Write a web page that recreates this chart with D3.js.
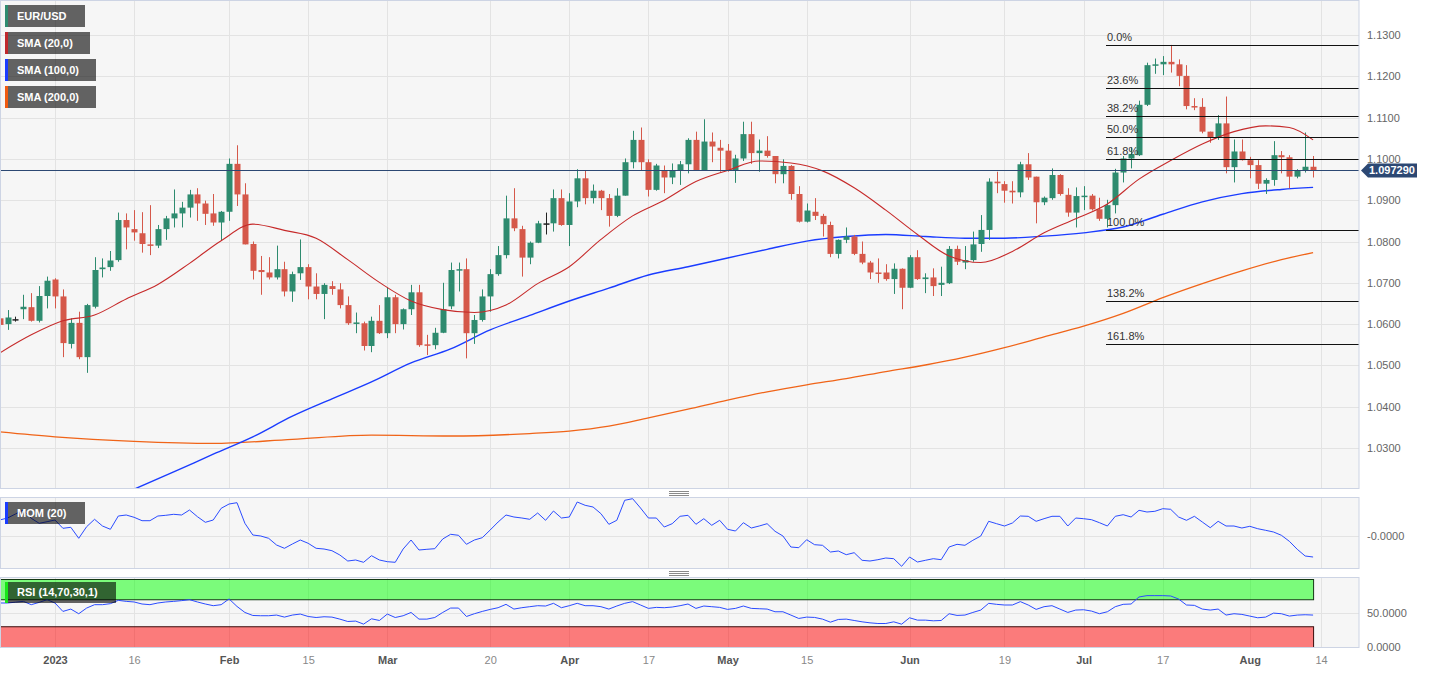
<!DOCTYPE html>
<html><head><meta charset="utf-8">
<script src="https://cdn.jsdelivr.net/npm/d3@7"></script>
<style>
body{margin:0;background:#fff;}
svg{display:block;font-family:"Liberation Sans",Arial,sans-serif;}
</style>
</head><body>
<svg id="chart" width="1430" height="674"></svg>
<script>
// ---------- DATA ----------
const firstDay = "2022-12-22";      // first trading day shown (index -7)
const lastAxisDay = "2023-08-14";
const opens = [
1.0614,1.0600,1.0612,1.0636,1.0641,1.0608,1.0668,1.0708,1.0667,1.0552,
1.0603,1.0520,1.0642,1.0733,1.0738,1.0755,1.0852,1.0830,1.0820,1.0793,
1.0790,1.0830,1.0856,1.0868,1.0882,1.0914,1.0892,1.0868,1.0846,1.0872,
1.0988,1.0914,1.0794,1.0731,1.0725,1.0713,1.0733,1.0679,1.0723,1.0738,
1.0691,1.0673,1.0692,1.0684,1.0646,1.0602,1.0602,1.0547,1.0608,1.0578,
1.0665,1.0600,1.0636,1.0677,1.0551,1.0549,1.0579,1.0643,1.0731,1.0733,
1.0578,1.0610,1.0667,1.0721,1.0767,1.0856,1.0830,1.0761,1.0797,1.0844,
1.0844,1.0905,1.0840,1.0897,1.0953,1.0905,1.0923,1.0905,1.0862,1.0911,
1.0992,1.1046,1.0992,1.0925,1.0973,1.0955,1.0971,1.0987,1.1046,1.0973,
1.1042,1.1027,1.1020,1.0973,1.1001,1.1060,1.1014,1.1020,1.1007,1.0963,
1.0983,1.0915,1.0848,1.0872,1.0862,1.0840,1.0770,1.0804,1.0812,1.0770,
1.0749,1.0725,1.0725,1.0709,1.0734,1.0688,1.0762,1.0709,1.0713,1.0695,
1.0699,1.0782,1.0749,1.0755,1.0794,1.0828,1.0945,1.0939,1.0923,1.0919,
1.0987,1.0957,1.0895,1.0905,1.0961,1.0913,1.0870,1.0909,1.0911,1.0878,
1.0855,1.0888,1.0967,1.1001,1.1009,1.1131,1.1227,1.1229,1.1235,1.1229,
1.1201,1.1128,1.1126,1.1066,1.1052,1.1086,1.0980,1.1018,1.0997,1.0985,
1.0940,1.0949,1.1009,1.1004,1.0957,1.0973,1.0981];
const highs = [
1.0658,1.0634,1.0618,1.0671,1.0675,1.0692,1.0715,1.0711,1.0684,1.0614,
1.0630,1.0649,1.0762,1.0759,1.0777,1.0870,1.0868,1.0876,1.0871,1.0888,
1.0840,1.0862,1.0926,1.0896,1.0925,1.0929,1.0899,1.0915,1.0874,1.1001,
1.1033,1.0941,1.0800,1.0765,1.0762,1.0790,1.0751,1.0727,1.0805,1.0745,
1.0723,1.0699,1.0704,1.0699,1.0667,1.0628,1.0606,1.0618,1.0646,1.0689,
1.0671,1.0638,1.0695,1.0695,1.0574,1.0591,1.0700,1.0749,1.0749,1.0759,
1.0622,1.0684,1.0733,1.0789,1.0911,1.0929,1.0838,1.0800,1.0850,1.0870,
1.0926,1.0926,1.0917,1.0975,1.0973,1.0938,1.0925,1.0915,1.0929,1.1001,
1.1068,1.1076,1.0999,1.0988,1.0984,1.0989,1.0995,1.1050,1.1066,1.1096,
1.1064,1.1046,1.1036,1.1010,1.1090,1.1090,1.1047,1.1055,1.1007,1.0999,
1.0985,1.0934,1.0892,1.0905,1.0867,1.0848,1.0805,1.0834,1.0816,1.0800,
1.0753,1.0759,1.0745,1.0747,1.0735,1.0767,1.0779,1.0723,1.0735,1.0739,
1.0789,1.0790,1.0789,1.0824,1.0864,1.0953,1.0969,1.0946,1.0946,1.0993,
1.1014,1.0957,1.0909,1.0977,1.0963,1.0929,1.0931,1.0934,1.0915,1.0906,
1.0901,1.0976,1.1007,1.1028,1.1141,1.1233,1.1243,1.1249,1.1276,1.1241,
1.1227,1.1147,1.1147,1.1066,1.1106,1.1151,1.1047,1.1047,1.1005,1.0997,
1.0953,1.1043,1.1019,1.1009,1.0975,1.1064,1.1007];
const lows = [
1.0574,1.0586,1.0606,1.0612,1.0606,1.0604,1.0638,1.0638,1.0520,1.0541,
1.0515,1.0482,1.0638,1.0713,1.0729,1.0751,1.0781,1.0802,1.0773,1.0767,
1.0784,1.0804,1.0834,1.0834,1.0858,1.0850,1.0840,1.0838,1.0802,1.0850,
1.0886,1.0793,1.0708,1.0671,1.0708,1.0708,1.0667,1.0654,1.0707,1.0660,
1.0660,1.0612,1.0671,1.0638,1.0598,1.0578,1.0536,1.0532,1.0576,1.0566,
1.0578,1.0587,1.0622,1.0545,1.0525,1.0539,1.0578,1.0636,1.0679,1.0517,
1.0552,1.0606,1.0630,1.0717,1.0759,1.0825,1.0715,1.0745,1.0796,1.0817,
1.0824,1.0838,1.0789,1.0883,1.0890,1.0892,1.0876,1.0836,1.0859,1.0911,
1.0977,1.0973,1.0909,1.0923,1.0917,1.0939,1.0937,1.0965,1.0972,1.0971,
1.0992,1.0969,1.0969,1.0942,1.0995,1.0988,1.0969,1.1003,1.0941,1.0941,
1.0901,1.0846,1.0846,1.0852,1.0812,1.0762,1.0759,1.0796,1.0767,1.0745,
1.0709,1.0700,1.0705,1.0673,1.0636,1.0687,1.0707,1.0675,1.0668,1.0668,
1.0697,1.0743,1.0733,1.0751,1.0775,1.0804,1.0917,1.0894,1.0892,1.0907,
1.0949,1.0844,1.0888,1.0901,1.0911,1.0860,1.0834,1.0876,1.0875,1.0850,
1.0834,1.0868,1.0943,1.0977,1.1007,1.1128,1.1206,1.1203,1.1209,1.1176,
1.1120,1.1118,1.1062,1.1039,1.1046,1.0965,1.0943,1.0996,1.0953,1.0927,
1.0915,1.0935,1.0965,1.0929,1.0953,1.0967,1.0955];
const closes = [
1.0598,1.0616,1.0612,1.0642,1.0608,1.0668,1.0705,1.0667,1.0554,1.0603,
1.0520,1.0646,1.0731,1.0737,1.0754,1.0852,1.0834,1.0822,1.0794,1.0790,
1.0830,1.0856,1.0868,1.0882,1.0914,1.0892,1.0867,1.0846,1.0872,1.0988,
1.0914,1.0793,1.0729,1.0726,1.0713,1.0733,1.0679,1.0721,1.0738,1.0691,
1.0673,1.0695,1.0685,1.0646,1.0602,1.0604,1.0547,1.0608,1.0578,1.0665,
1.0600,1.0636,1.0677,1.0549,1.0549,1.0579,1.0636,1.0731,1.0733,1.0578,
1.0610,1.0667,1.0721,1.0767,1.0856,1.0832,1.0761,1.0797,1.0844,1.0844,
1.0905,1.0840,1.0897,1.0953,1.0905,1.0923,1.0905,1.0862,1.0911,1.0992,
1.1046,1.0992,1.0925,1.0984,1.0955,1.0971,1.0987,1.1046,1.0973,1.1042,
1.1030,1.1020,1.0973,1.1001,1.1060,1.1014,1.1020,1.1007,1.0963,1.0983,
1.0915,1.0848,1.0875,1.0862,1.0842,1.0770,1.0804,1.0812,1.0770,1.0749,
1.0725,1.0723,1.0709,1.0734,1.0688,1.0762,1.0709,1.0713,1.0692,1.0700,
1.0782,1.0751,1.0755,1.0793,1.0828,1.0945,1.0941,1.0923,1.0919,1.0987,
1.0955,1.0895,1.0906,1.0961,1.0915,1.0870,1.0910,1.0911,1.0878,1.0855,
1.0888,1.0967,1.1001,1.1012,1.1131,1.1227,1.1229,1.1235,1.1229,1.1201,
1.1128,1.1126,1.1066,1.1052,1.1086,1.0980,1.1018,1.0997,1.0985,1.0940,
1.0949,1.1009,1.1004,1.0957,1.0973,1.0981,1.09729];

const sma20Idx = [-7,-3,1,5,9,13,17,21,25,29,33,37,41,45,49,53,57,61,65,69,73,77,81,85,89,93,97,101,105,109,113,117,121,125,129,133,137,141,145,149,153,156,159];
const sma20Val = [1.0530,1.0574,1.0608,1.0622,1.0661,1.0696,1.0747,1.0802,1.0842,1.0827,1.0808,1.0756,1.0701,1.0656,1.0635,1.0628,1.0646,1.0698,1.0739,1.0805,1.0862,1.0900,1.0945,1.0972,1.0995,1.0990,1.0971,1.0930,1.0876,1.0817,1.0765,1.0749,1.0776,1.0821,1.0855,1.0891,1.0951,1.0996,1.1036,1.1066,1.1080,1.1076,1.1046];
const sma100Idx = [9,15,20,25,30,35,40,45,50,55,60,65,70,75,80,85,90,95,100,105,110,115,120,125,130,135,140,145,150,155,159];
const sma100Val = [1.0192,1.0242,1.0285,1.0327,1.0377,1.0419,1.0460,1.0506,1.0540,1.0586,1.0621,1.0656,1.0687,1.0719,1.0739,1.0760,1.0781,1.0801,1.0812,1.0817,1.0812,1.0808,1.0808,1.0813,1.0821,1.0835,1.0866,1.0896,1.0916,1.0926,1.0931];
const sma200Idx = [-7,0,10,20,30,40,50,60,65,70,75,80,85,90,95,100,105,110,115,120,125,130,135,140,145,150,155,159];
const sma200Val = [1.0339,1.0327,1.0316,1.0311,1.0321,1.0331,1.0329,1.0335,1.0341,1.0353,1.0373,1.0394,1.0416,1.0436,1.0453,1.0468,1.0485,1.0501,1.0520,1.0543,1.0569,1.0595,1.0626,1.0664,1.0698,1.0729,1.0756,1.0773];

const momVals = [
0.0155,0.0175,0.0215,0.0255,0.0172,0.0122,0.0138,0.0155,0.0072,0.0082,
-0.0028,0.0088,0.0162,0.0095,0.0062,0.0195,0.0205,0.0182,0.0148,0.0148,
0.0195,0.0202,0.0212,0.0205,0.0255,0.0188,0.0132,0.0155,0.0272,0.0315,
0.0328,0.0122,0.0005,-0.0005,-0.0028,-0.0095,-0.0128,-0.0085,-0.0045,-0.0078,
-0.0128,-0.0135,-0.0152,-0.0195,-0.0255,-0.0245,-0.0268,-0.0202,-0.0245,-0.0262,
-0.0268,-0.0135,-0.0045,-0.0145,-0.0138,-0.0132,-0.0035,0.0012,0.0002,-0.0088,
-0.0045,-0.0022,0.0055,0.0135,0.0205,0.0185,0.0175,0.0162,0.0225,0.0152,
0.0245,0.0175,0.0185,0.0335,0.0302,0.0285,0.0218,0.0112,0.0152,0.0352,
0.0368,0.0275,0.0175,0.0175,0.0085,0.0118,0.0192,0.0202,0.0112,0.0168,
0.0102,0.0152,0.0062,0.0045,0.0128,0.0075,0.0095,0.0118,0.0042,-0.0005,
-0.0115,-0.0122,-0.0042,-0.0092,-0.0098,-0.0165,-0.0155,-0.0192,-0.0172,-0.0248,
-0.0255,-0.0242,-0.0225,-0.0232,-0.0308,-0.0215,-0.0265,-0.0248,-0.0232,-0.0242,
-0.0115,-0.0088,-0.0098,-0.0048,-0.0005,0.0142,0.0118,0.0095,0.0125,0.0195,
0.0192,0.0142,0.0168,0.0192,0.0192,0.0095,0.0175,0.0168,0.0158,0.0128,
0.0095,0.0192,0.0208,0.0185,0.0252,0.0235,0.0242,0.0268,0.0262,0.0185,
0.0152,0.0192,0.0135,0.0078,0.0142,0.0095,0.0095,0.0075,0.0092,0.0068,
0.0052,0.0035,0.0002,-0.0058,-0.0138,-0.0205,-0.0215];
const rsiVals = [
65.2,65.2,66.4,67.6,62.7,66.1,70.1,65.2,52.7,56.2,
49.3,57.7,62.7,62.7,64.2,69.1,67.6,66.7,63.7,62.7,
65.2,66.7,67.6,68.7,70.1,66.7,63.7,61.2,62.7,71.2,
60.1,51.2,46.7,46.3,46.3,47.3,44.3,47.3,48.8,45.2,
43.7,44.8,44.3,41.3,37.8,38.4,33.9,41.8,39.3,48.8,
43.7,46.3,51.2,41.3,41.3,43.7,51.2,57.7,57.7,45.2,
49.3,52.7,55.7,58.2,63.2,56.2,58.2,59.7,61.2,60.7,
64.7,58.2,61.2,64.7,61.2,61.2,59.7,56.2,60.7,64.7,
67.2,62.2,57.2,58.7,58.2,59.2,61.2,63.7,57.2,60.7,
59.7,58.7,55.7,57.2,60.7,57.2,56.7,56.2,52.2,52.2,
47.3,42.3,44.3,43.8,41.3,36.8,40.8,41.3,39.3,37.3,
35.8,34.8,34.8,37.3,33.8,43.3,39.8,39.8,38.8,39.3,
49.3,46.8,47.3,51.2,54.7,64.7,63.2,62.2,62.2,67.2,
62.2,55.7,59.7,61.2,56.2,51.2,54.7,55.2,53.2,49.3,
52.2,59.7,63.2,63.7,74.1,76.1,76.1,76.1,75.6,71.1,
62.2,61.7,56.2,54.7,56.2,47.3,49.3,48.3,45.8,43.3,
44.3,50.2,49.3,45.8,47.3,47.8,47.3];

const fibLabels = ["0.0%","23.6%","38.2%","50.0%","61.8%","100.0%","138.2%","161.8%"];
const fibPrices = [1.1276,1.1171,1.1104,1.1053,1.0999,1.0828,1.0657,1.0551];
const priceTicks = [1.03,1.04,1.05,1.06,1.07,1.08,1.09,1.10,1.11,1.12,1.13];
const xTickDates = ["2023-01-02","2023-01-16","2023-02-01","2023-02-15","2023-03-01","2023-03-20","2023-04-03","2023-04-17","2023-05-01","2023-05-15","2023-06-01","2023-06-19","2023-07-03","2023-07-17","2023-08-01","2023-08-14"];
const xTickLabels = ["2023","16","Feb","15","Mar","20","Apr","17","May","15","Jun","19","Jul","17","Aug","14"];
const xTickMajor = [1,0,1,0,1,0,1,0,1,0,1,0,1,0,1,0];
const momTicks = [0];
const momTickLabels = ["-0.0000"];
const rsiTicks = [0,50];
const rsiBands = {over:[70,100], under:[0,30]};
const lastPrice = 1.09729;
const legendMain = [
  {label:"EUR/USD", color:"#2e8b6f"},
  {label:"SMA (20,0)", color:"#c0282d"},
  {label:"SMA (100,0)", color:"#1a3cff"},
  {label:"SMA (200,0)", color:"#f05a10"}];

// ---------- LAYOUT ----------
const svg = d3.select("#chart");
const W = 1359;
const P = {main:[0,488], mom:[497.5,568.5], rsi:[577.5,647.5]};
const C = {up:"#2e8b6f", down:"#d5584a", grid:"#e3e3e3", border:"#cdd4e4", bg:"#f6f6f6", axis:"#666"};

// trading days (weekdays)
const parse = d3.utcParse("%Y-%m-%d"), fmt = d3.utcFormat("%Y-%m-%d");
const days = d3.utcDay.range(parse(firstDay), d3.utcDay.offset(parse(lastAxisDay),1))
  .filter(d => d.getUTCDay()!==0 && d.getUTCDay()!==6).map(fmt);
const idxOf = s => days.indexOf(s) - 7;
const candles = opens.map((o,k)=>({i:k-7,o,h:highs[k],l:lows[k],c:closes[k]}));

const x = d3.scaleLinear().domain([-7,160]).range([-0.39,1321.0]);
const y = d3.scaleLinear().domain([1.020315,1.138475]).range([488,0]);
const ym = d3.scaleLinear().domain([-0.0345,0.0385]).range([570,497]);
const yr = d3.scaleLinear().domain([0,100]).range([647,579.5]);

const defs = svg.append("defs");
function clip(id,y0,y1){defs.append("clipPath").attr("id",id).append("rect").attr("x",0).attr("y",y0).attr("width",W).attr("height",y1-y0);}
clip("cm",0,488); clip("cmo",P.mom[0],P.mom[1]); clip("cr",P.rsi[0],P.rsi[1]);

// panel backgrounds
[[0.5,488],[P.mom[0],P.mom[1]-P.mom[0]],[P.rsi[0],P.rsi[1]-P.rsi[0]]].forEach(([t,h])=>{
  svg.append("rect").attr("x",0.5).attr("y",t).attr("width",W-0.5).attr("height",h)
    .attr("fill",C.bg);
});

const xTickIdx = xTickDates.map(idxOf);
// vertical grid
[[0,488],P.mom,P.rsi].forEach(([a,b])=>{
  svg.append("g").selectAll("line").data(xTickIdx).join("line")
    .attr("x1",d=>Math.round(x(d))+0.5).attr("x2",d=>Math.round(x(d))+0.5)
    .attr("y1",a).attr("y2",b).attr("stroke",C.grid);
});
// horizontal grids
svg.append("g").selectAll("line").data(priceTicks).join("line")
  .attr("x1",0).attr("x2",W).attr("y1",d=>Math.round(y(d))+0.5).attr("y2",d=>Math.round(y(d))+0.5).attr("stroke",C.grid);
svg.append("g").selectAll("line").data(momTicks).join("line")
  .attr("x1",0).attr("x2",W).attr("y1",d=>Math.round(ym(d))+0.5).attr("y2",d=>Math.round(ym(d))+0.5).attr("stroke",C.grid);
svg.append("g").selectAll("line").data([50]).join("line")
  .attr("x1",0).attr("x2",W).attr("y1",d=>Math.round(yr(d))+0.5).attr("y2",d=>Math.round(yr(d))+0.5).attr("stroke",C.grid);

// ---------- MAIN PANEL ----------
const gm = svg.append("g").attr("clip-path","url(#cm)");
const lineGen = (xs, ys, sc) => d3.line().x((d,k)=>x(xs[k])).y(d=>sc(d)).curve(d3.curveMonotoneX)(ys);
gm.append("path").attr("d",lineGen(sma200Idx,sma200Val,y)).attr("fill","none").attr("stroke","#f06418").attr("stroke-width",1.3);
gm.append("path").attr("d",lineGen(sma100Idx,sma100Val,y)).attr("fill","none").attr("stroke","#1a3cff").attr("stroke-width",1.4);

const colorOf = d => d.c>d.o ? C.up : (d.c<d.o ? C.down : "#222");
const cg = gm.append("g");
cg.selectAll("line").data(candles).join("line")
  .attr("x1",d=>Math.round(x(d.i))+0.5).attr("x2",d=>Math.round(x(d.i))+0.5)
  .attr("y1",d=>y(d.h)).attr("y2",d=>y(d.l)).attr("stroke",colorOf).attr("stroke-width",1);
cg.selectAll("rect").data(candles).join("rect")
  .attr("x",d=>Math.round(x(d.i))-2.5).attr("width",6)
  .attr("y",d=>y(Math.max(d.o,d.c)))
  .attr("height",d=>Math.max(1.5,Math.abs(y(d.o)-y(d.c))))
  .attr("fill",colorOf);

gm.append("path").attr("d",lineGen(sma20Idx,sma20Val,y)).attr("fill","none").attr("stroke","#c62a2a").attr("stroke-width",1.1);

// fibonacci
const fibX0 = 1106;
svg.append("g").selectAll("line").data(fibPrices).join("line")
  .attr("x1",fibX0).attr("x2",W).attr("y1",d=>Math.round(y(d))+0.5).attr("y2",d=>Math.round(y(d))+0.5)
  .attr("stroke","#111").attr("stroke-width",1.2);
svg.append("g").selectAll("text").data(fibPrices).join("text")
  .attr("x",fibX0+1).attr("y",d=>y(d)-4).text((d,k)=>fibLabels[k])
  .attr("font-size",11).attr("fill","#333");

// last price line and tag
const yl = Math.round(y(lastPrice))+0.5;
svg.append("line").attr("x1",0).attr("x2",W).attr("y1",yl).attr("y2",yl).attr("stroke","#2c4873").attr("stroke-width",1);

// ---------- MOM ----------
svg.append("path").attr("clip-path","url(#cmo)")
  .attr("d",d3.line().x((d,k)=>x(k-7)).y(d=>ym(d))(momVals))
  .attr("fill","none").attr("stroke","#2a4bff").attr("stroke-width",1);

// ---------- RSI ----------
const gr = svg.append("g").attr("clip-path","url(#cr)");
const bandX1 = x(159)+0.5;
gr.append("rect").attr("x",0.5).attr("width",bandX1-0.5)
  .attr("y",yr(rsiBands.over[1])).attr("height",yr(rsiBands.over[0])-yr(rsiBands.over[1]))
  .attr("fill","rgba(0,255,0,0.5)").attr("stroke","#143814").attr("stroke-width",1);
gr.append("rect").attr("x",0.5).attr("width",bandX1-0.5)
  .attr("y",yr(rsiBands.under[1])).attr("height",yr(rsiBands.under[0])-yr(rsiBands.under[1])+2)
  .attr("fill","rgba(255,0,0,0.5)").attr("stroke","#3a0c0c").attr("stroke-width",1);
gr.append("path").attr("d",d3.line().x((d,k)=>x(k-7)).y(d=>yr(d))(rsiVals))
  .attr("fill","none").attr("stroke","#2a4bff").attr("stroke-width",1);

// panel borders
[[0.5,488],[P.mom[0],P.mom[1]-P.mom[0]],[P.rsi[0],P.rsi[1]-P.rsi[0]]].forEach(([t,h])=>{
  svg.append("rect").attr("x",0.5).attr("y",t).attr("width",W-0.5).attr("height",h)
    .attr("fill","none").attr("stroke",C.border);
});

// separator handles
[491.5,571.5].forEach(t=>{
  [0,2,4].forEach(o=>svg.append("line").attr("x1",669).attr("x2",689).attr("y1",t+o).attr("y2",t+o).attr("stroke","#8a8a8a").attr("stroke-width",1));
});

// ---------- AXES ----------
const styleAxis = g => {g.select(".domain").remove(); g.selectAll("text").attr("fill",C.axis).attr("font-size",11).attr("font-family","Liberation Sans, Arial, sans-serif");};
svg.append("g").attr("transform",`translate(${W},0)`)
  .call(d3.axisRight(y).tickValues(priceTicks).tickFormat(d3.format(".4f")).tickSize(0).tickPadding(8)).call(styleAxis);
svg.append("g").attr("transform",`translate(${W},0)`)
  .call(d3.axisRight(ym).tickValues(momTicks).tickFormat((d,k)=>momTickLabels[k]).tickSize(0).tickPadding(8)).call(styleAxis);
svg.append("g").attr("transform",`translate(${W},0)`)
  .call(d3.axisRight(yr).tickValues(rsiTicks).tickFormat(d3.format(".4f")).tickSize(0).tickPadding(8)).call(styleAxis);
const xa = svg.append("g").attr("transform","translate(0,648)")
  .call(d3.axisBottom(x).tickValues(xTickIdx).tickFormat((d,k)=>xTickLabels[k]).tickSize(0).tickPadding(8)).call(styleAxis);
xa.selectAll("text").attr("font-size",11)
  .attr("font-weight",(d,k)=>xTickMajor[k]?"bold":"normal")
  .attr("fill",(d,k)=>xTickMajor[k]?"#555":"#888");

// price tag
const tag = svg.append("g");
tag.append("path").attr("d",`M${W+2},${yl} L${W+9},${yl-7} L1417,${yl-7} L1417,${yl+7} L${W+9},${yl+7} Z`).attr("fill","#2c4873");
tag.append("text").attr("x",W+10).attr("y",yl).attr("dy","0.35em").text(lastPrice.toFixed(6))
  .attr("fill","#fff").attr("font-size",11).attr("font-weight","bold");

// ---------- LEGENDS ----------
function legend(x0,y0,w,h,label,color){
  const g = svg.append("g");
  g.append("rect").attr("x",x0).attr("y",y0).attr("width",w).attr("height",h).attr("fill","rgba(0,0,0,0.6)");
  g.append("rect").attr("x",x0).attr("y",y0).attr("width",3).attr("height",h).attr("fill",color);
  g.append("text").attr("x",x0+12).attr("y",y0+h/2).attr("dy","0.35em").text(label)
    .attr("fill","#fff").attr("font-size",11).attr("font-weight","bold");
}
const mainW = [80,85,91,91];
legendMain.forEach((d,k)=>legend(5,5+k*27,mainW[k],22,d.label,d.color));
legend(5,502,80,22,"MOM (20)","#1a3cff");
legend(5,582,111,21,"RSI (14,70,30,1)","#19e619");
</script>
</body></html>
